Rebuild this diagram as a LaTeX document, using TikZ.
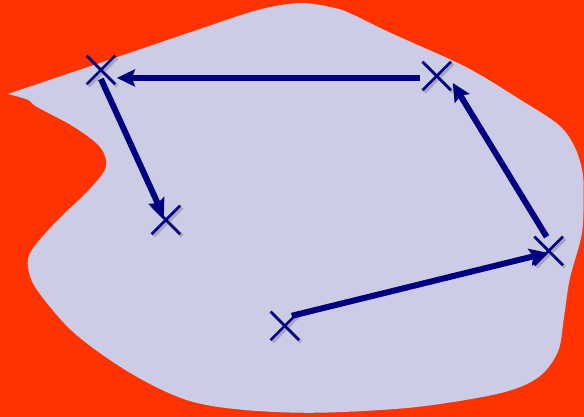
\documentclass[tikz,border=0pt]{standalone}
\usepackage{xcolor}
\usepackage{tikz}
\usetikzlibrary{shapes.misc, arrows.meta, backgrounds}
\definecolor{bgred}{RGB}{255,51,0}
\definecolor{blobblue}{RGB}{204,204,230}
\definecolor{marknavy}{RGB}{0,0,128}

\begin{document}
\begin{tikzpicture}[
    x=0.5pt, y=-0.5pt,
    xmark/.style={cross out, draw=marknavy, line width=1.3pt, minimum size=13pt, inner sep=0pt},
    xshadow/.style={draw=black, opacity=0.18, line width=1.8pt},
    arrow/.style={-{Stealth[length=9pt, width=8.5pt, inset=1.5pt]}, line width=3pt, marknavy}
]
% Background and region
\begin{scope}[on background layer]
\fill[bgred] (0,0) rectangle (584,417);
\fill[blobblue] plot[smooth, tension=0.55] coordinates {
    (8,94) (100,63) (200,29) (258,10) (300,3) (335,8) (354,15) (391,33)
    (466,67) (521,100) (559,125) (575,147) (583,173) (584,200) (582,235)
    (570,280) (564,320) (559,350) (544,373) (521,387) (484,397) (410,408)
    (317,413) (242,410) (186,400) (130,373) (74,333) (37,290) (28,267)
    (32,250) (56,222) (89,190) (106,167) (100,147) (74,127) (37,107)
    (28,100) (8,94)} -- cycle;
\end{scope}

% Points
\node[xmark] (p1) at (285,326) {};
\node[xmark] (p2) at (549,251) {};
\node[xmark] (p3) at (437,76) {};
\node[xmark] (p4) at (101,70) {};
\node[xmark] (p5) at (166,220) {};

% Shadows of the marks
\begin{scope}[on background layer]
\foreach \i in {1,...,5}
  \draw[xshadow] ([shift={(2,2)}]p\i.north west) -- ([shift={(2,2)}]p\i.south east)
                 ([shift={(2,2)}]p\i.north east) -- ([shift={(2,2)}]p\i.south west);
\end{scope}

% Arrows
\draw[arrow] ([shift={(7,-10)}]p1.center) -- ([shift={(-1,2)}]p2.center);
\draw[arrow] ([shift={(-2,-14)}]p2.center) -- ([shift={(16,7)}]p3.center);
\draw[arrow] ([shift={(-17,2)}]p3.center) -- ([shift={(16,8)}]p4.center);
\draw[arrow] ([shift={(0,9)}]p4.center) -- ([shift={(-2,-3)}]p5.center);
\end{tikzpicture}
\end{document}
